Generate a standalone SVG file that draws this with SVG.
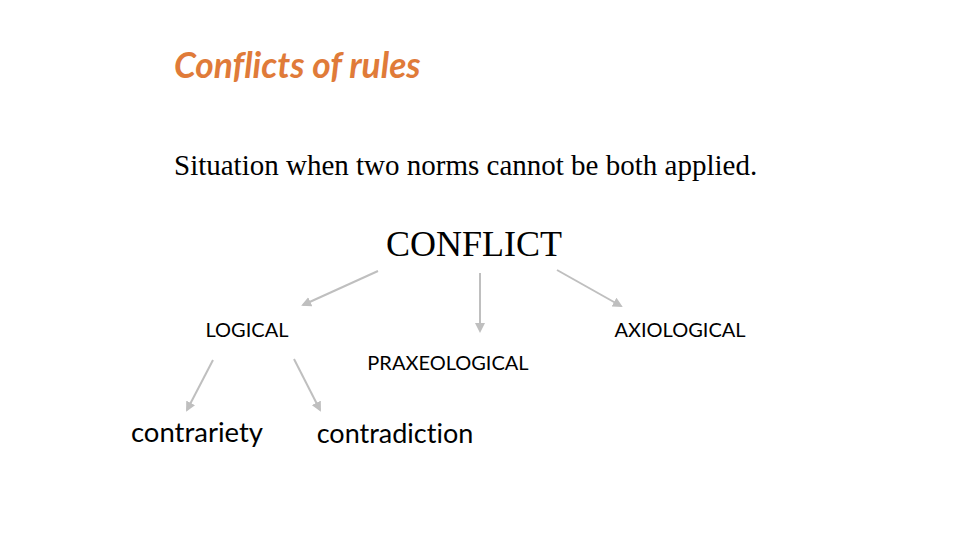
<svg xmlns="http://www.w3.org/2000/svg" width="960" height="540" viewBox="0 0 960 540">
<defs>
<style>
.title{font-family:Lato,"Open Sans","Liberation Sans",sans-serif;font-weight:bold;font-style:italic;font-size:35.3px;fill:#E07B39;font-variant-ligatures:none}
.serif{font-family:"Liberation Serif","Times New Roman",serif;fill:#000}
.sans{font-family:Lato,"Liberation Sans",sans-serif;fill:#000;font-variant-ligatures:none}
.conn{stroke:#BFBFBF;stroke-width:2;fill:none;marker-end:url(#ah)}
</style>
<marker id="ah" viewBox="0 0 10 10" refX="8" refY="5" markerWidth="5" markerHeight="5" orient="auto" markerUnits="strokeWidth">
<path d="M0,0 L10,5 L0,10 Z" fill="#BFBFBF"/>
</marker>
</defs>
<rect width="960" height="540" fill="#fff"/>
<text class="title" x="174" y="78">Conflicts of rules</text>
<text class="serif" x="174" y="175" font-size="29">Situation when two norms cannot be both applied.</text>
<g id="conflict"><text class="serif" x="474" y="256" font-size="36" text-anchor="middle">CONFLICT</text></g>
<g id="logical"><text class="sans" x="247" y="337" font-size="20" text-anchor="middle">LOGICAL</text></g>
<g id="axiological"><text class="sans" x="680" y="337" font-size="20" text-anchor="middle">AXIOLOGICAL</text></g>
<g id="praxeological"><text class="sans" x="448" y="370" font-size="20" text-anchor="middle">PRAXEOLOGICAL</text></g>
<g id="contrariety"><text class="sans" x="197" y="442" font-size="27.5" text-anchor="middle">contrariety</text></g>
<g id="contradiction"><text class="sans" x="395" y="443" font-size="27" text-anchor="middle">contradiction</text></g>
<g id="connectors">
<line class="conn" x1="378" y1="271" x2="303" y2="305"/>
<line class="conn" x1="480" y1="273" x2="480" y2="331"/>
<line class="conn" x1="557" y1="270" x2="621" y2="306"/>
<line class="conn" x1="213" y1="360" x2="187" y2="410"/>
<line class="conn" x1="294" y1="359" x2="320" y2="410"/>
</g>
</svg>
